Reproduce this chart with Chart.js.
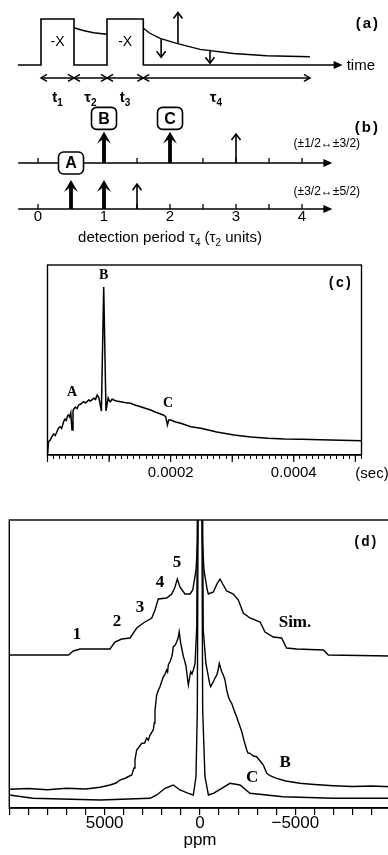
<!DOCTYPE html>
<html>
<head>
<meta charset="utf-8">
<script src="https://cdn.jsdelivr.net/npm/chart.js@4.4.1/dist/chart.umd.min.js"></script>
<style>
  html, body { margin: 0; padding: 0; background: #fff; overflow: hidden; }
  #wrap { position: relative; width: 388px; height: 855px; overflow: hidden; }
  canvas { position: absolute; left: 0; }
</style>
</head>
<body>
<div id="wrap">
  <canvas id="panelA" width="388" height="110" style="top:0"></canvas>
  <canvas id="panelB" width="388" height="145" style="top:105px"></canvas>
  <canvas id="panelC" width="388" height="235" style="top:255px"></canvas>
  <canvas id="panelD" width="392" height="345" style="top:510px"></canvas>
</div>
<script>
// (a) pulse sequence, time in tau2 units
const pulseEdges = [0, 1, 2, 3.1];
const pulseHeight = 1;
const decay1T = [1.00, 1.28, 1.59, 1.99];
const decay1S = [0.81, 0.75, 0.70, 0.67];
const decay2T = [3.10, 3.30, 3.61, 4.11, 4.82, 5.83, 6.84, 8.15];
const decay2S = [0.80, 0.69, 0.58, 0.47, 0.34, 0.25, 0.20, 0.18];
const sampleT = [3.64, 4.15, 5.12];
const sampleFrom = [0.56, 0.47, 0.33];
const sampleTo = [0.17, 1.14, 0.04];
const spanEdges = [0, 1, 2, 3.1, 8.15];
const spanNames = [['t', '1'], ['τ', '2'], ['t', '3'], ['τ', '4']];
const spanLabelT = [0.5, 1.5, 2.55, 5.3];

// (b) echo positions for the two satellite transitions
const periodTicks = [0, 1, 2, 3, 4];
const upperMainT = [1, 2], upperMainH = [0.68, 0.68];
const upperWeakT = [3], upperWeakH = [0.63];
const lowerMainT = [0.5, 1], lowerMainH = [0.63, 0.63];
const lowerWeakT = [1.5], lowerWeakH = [0.54];
const echoNames = ['A', 'B', 'C'];
const echoNameT = [0.5, 1, 2];
const echoNameRow = [1, 1.97, 1.97];
const transitions = ['(±1/2↔±3/2)', '(±3/2↔±5/2)'];

// (c) time-domain signal (microseconds, arb. units)
const fidTimeUs = [
  0, 1.6, 4.5, 7.2, 10, 12.5, 15.3, 18, 20.7, 23,
  26.1, 28.5, 30.5, 32.5, 34.3, 36, 37.8, 39.8, 41.4, 43,
  45.2, 48, 50.6, 54, 58.7, 62, 66.9, 70, 75, 78,
  80.6, 83, 84.8, 87.5, 91.3, 95, 98.5, 100.5, 102.3, 105,
  107.6, 112, 118.6, 125, 134.9, 142, 151.2, 160, 167.5, 175,
  183.8, 188, 192, 194.7, 196.9, 200.1, 208, 216.4, 232.7, 249,
  275, 302.9, 330, 358.3, 385, 412.1, 460, 512
];
const fidSignal = [
  0, 13.3, 15, 18.3, 21, 19.5, 23.3, 27, 28.3, 26.5,
  33.3, 36, 34.5, 39, 40, 38, 42, 25, 44, 46,
  48, 46.5, 50, 51, 53.3, 52, 55, 54, 56.7, 55.5,
  60, 58, 53.3, 44, 168, 44, 57, 54, 53.3, 56,
  55, 54, 53.3, 52.5, 51.7, 50, 48.3, 46.5, 45, 43,
  41, 40, 38.3, 30, 35, 35, 33, 31.7, 28.3, 26.7,
  23, 20, 18, 16.7, 16, 15.7, 15, 14.3
];
const timeTickLabels = [0.0002, 0.0004];
const fidMarkNames = ['A', 'B', 'C'];
const fidMarkT = [40, 91.3, 196];
const fidMarkS = [63, 180, 52];

// (d) spectra vs ppm
const simPpm = [10000, 6900, 6640, 6290, 4720, 4460, 4110, 3670, 3320, 2970,
  2530, 2360, 2190, 1750, 1480, 1310, 1190, 1050, 790, 520,
  380, 210, 120, 40, 0, -40, -120, -210, -380, -440,
  -700, -910, -1050, -1190, -1400, -1750, -2010, -2270, -2620, -3150,
  -3410, -3840, -4280, -4540, -5070, -6470, -6730, -10000];
const simInt = [153, 153, 157, 159, 159, 166, 169, 170, 180, 185,
  190, 198, 209, 210, 214, 221, 229, 221, 214, 214,
  218, 238, 268, 700, 800, 700, 268, 238, 218, 214,
  216, 225, 229, 224, 217, 214, 208, 195, 190, 186,
  176, 171, 170, 160, 159, 158, 153, 152];
const echoBPpm = [10000, 9000, 8000, 7000, 6000, 5240, 4720, 4400, 4200, 3900,
  3580, 3460, 3410, 3320, 3200, 3060, 2900, 2800, 2710, 2620,
  2450, 2400, 2360, 2270, 2180, 2100, 2000, 1920, 1850, 1750,
  1700, 1660, 1560, 1480, 1440, 1400, 1300, 1220, 1150, 1090,
  1010, 940, 870, 800, 730, 660, 610, 550, 490, 420,
  350, 260, 170, 60, -60, -170, -310, -440, -500, -560,
  -630, -700, -790, -880, -950, -1010, -1080, -1140, -1220, -1310,
  -1400, -1490, -1580, -1660, -1800, -1920, -2050, -2190, -2300, -2450,
  -2520, -2620, -2800, -2970, -3150, -3320, -3500, -3700, -4020, -4500,
  -5240, -6000, -6990, -8000, -9000, -10000];
const echoBInt = [18.7, 19.5, 18.3, 19.8, 19, 20.7, 23, 25, 28, 30,
  33, 40, 48, 58, 61, 64.7, 65, 70, 68, 73,
  78, 85, 98, 113, 118, 121.3, 127, 131.3, 133, 138,
  136, 143, 147, 151.3, 155, 161.3, 163, 166.3, 170, 176.3,
  164.7, 158, 151.3, 147, 141.3, 130, 123, 130, 136.3, 134,
  138, 144.7, 181.3, 600, 600, 178, 144.7, 131.3, 125, 121.3,
  124, 126.3, 130, 133, 138, 144.7, 140, 136.3, 133, 128,
  118, 111.3, 107, 104.7, 97, 91.3, 84, 76.3, 68, 58,
  55, 54.7, 52, 51.3, 47, 43, 34.7, 32, 29.7, 27,
  24.7, 23.5, 22.3, 21.5, 22, 21.3];
const echoCPpm = [10000, 8770, 5240, 2620, 2270, 1830, 1400, 1050, 610, 350,
  210, 140, 40, -40, -140, -260, -440, -700, -1140, -1570,
  -2100, -2620, -4360, -6990, -10000];
const echoCInt = [13, 9.7, 8, 9.7, 13, 19.7, 23, 18, 14.7, 13,
  31.3, 98, 600, 600, 98, 31.3, 13, 14.7, 19.7, 24.7,
  23, 14.7, 11.3, 9.7, 9.7];
const ppmTickLabels = [5000, 0, -5000];
const simStepNames = ['1', '2', '3', '4', '5'];
const simStepPpm = [6450, 4350, 3150, 2100, 1200];
const simStepInt = [173, 186, 200, 225, 245];
const traceNames = ['Sim.', 'B', 'C'];
const traceNamePpm = [-4980, -4460, -2730];
const traceNameInt = [185, 45, 30];

const SANS = "'Liberation Sans', Arial, Helvetica, sans-serif";
const SERIF = "'Liberation Serif', 'Times New Roman', serif";
const MONO = "'Liberation Mono', 'Courier New', monospace";

Chart.defaults.font.family = SANS;
Chart.defaults.color = '#000';
Chart.defaults.animation = false;
Chart.defaults.responsive = false;
Chart.defaults.events = [];
Chart.defaults.plugins.legend.display = false;
Chart.defaults.plugins.tooltip.enabled = false;

const toPts = (xs, ys, k = 1) => xs.map((x, i) => ({ x: x * k, y: ys[i] }));
const lineSet = (data, w) => ({ data, showLine: true, borderColor: '#000', borderWidth: w, pointRadius: 0, tension: 0 });

// drawing helpers
function seg(ctx, x1, y1, x2, y2, lw) {
  ctx.lineWidth = lw;
  ctx.beginPath(); ctx.moveTo(x1, y1); ctx.lineTo(x2, y2); ctx.stroke();
}
function head(ctx, x, y, ang, len, half, lw, kind) {
  const c = Math.cos(ang), s = Math.sin(ang);
  const bx = x - len * c, by = y - len * s;
  const nx = -s * half, ny = c * half;
  ctx.beginPath();
  if (kind === 'open') {
    ctx.lineWidth = lw;
    ctx.moveTo(bx + nx, by + ny); ctx.lineTo(x, y); ctx.lineTo(bx - nx, by - ny);
    ctx.stroke();
  } else if (kind === 'notch') {
    ctx.moveTo(x, y); ctx.lineTo(bx + nx, by + ny);
    ctx.lineTo(x - len * 0.55 * c, y - len * 0.55 * s);
    ctx.lineTo(bx - nx, by - ny); ctx.closePath(); ctx.fill();
  } else {
    ctx.moveTo(x, y); ctx.lineTo(bx + nx, by + ny); ctx.lineTo(bx - nx, by - ny);
    ctx.closePath(); ctx.fill();
  }
}
// text with subscripts: parts = [[text, isSub], ...]
function rich(ctx, parts, x, y, size, weight, align) {
  const big = `${weight} ${size}px ${SANS}`, small = `${weight} ${Math.round(size * 0.65)}px ${SANS}`;
  let w = 0;
  parts.forEach(([t, sub]) => { ctx.font = sub ? small : big; w += ctx.measureText(t).width; });
  let cx = align === 'center' ? x - w / 2 : x;
  ctx.textAlign = 'left'; ctx.textBaseline = 'middle';
  parts.forEach(([t, sub]) => {
    ctx.font = sub ? small : big;
    ctx.fillText(t, cx, sub ? y + size * 0.32 : y);
    cx += ctx.measureText(t).width;
  });
}

// ---- (a) ----
const trainPts = [{ x: -0.7, y: 0 }];
pulseEdges.forEach((e, i) => {
  const rising = i % 2 === 0;
  trainPts.push({ x: e, y: rising ? 0 : pulseHeight }, { x: e, y: rising ? pulseHeight : 0 });
});
trainPts.push({ x: 9.05, y: 0 });

new Chart(document.getElementById('panelA'), {
  type: 'scatter',
  data: { datasets: [
    lineSet(trainPts, 1.6),
    lineSet(toPts(decay1T, decay1S), 1.4),
    lineSet(toPts(decay2T, decay2S), 1.4)
  ] },
  options: {
    layout: { padding: 0 },
    scales: {
      x: { display: false, min: -1.2424, max: 10.515 },
      y: { display: false, min: -0.978, max: 1.413 }
    }
  },
  plugins: [{
    id: 'sequence',
    afterDatasetsDraw(chart) {
      const { ctx } = chart, X = v => chart.scales.x.getPixelForValue(v), Y = v => chart.scales.y.getPixelForValue(v);
      ctx.save();
      ctx.strokeStyle = ctx.fillStyle = '#000';
      head(ctx, X(9.05) + 3, Y(0), 0, 9, 4, 0, 'fill');
      sampleT.forEach((t, i) => {
        const up = sampleTo[i] > sampleFrom[i];
        seg(ctx, X(t), Y(sampleFrom[i]), X(t), Y(sampleTo[i]), 1.6);
        head(ctx, X(t), Y(sampleTo[i]), up ? -Math.PI / 2 : Math.PI / 2, 6, 4.5, 1.6, 'open');
      });
      const ys = Y(-0.28);
      for (let i = 0; i < spanEdges.length - 1; i++) {
        const a = X(spanEdges[i]), b = X(spanEdges[i + 1]);
        seg(ctx, a, ys, b, ys, 1.5);
        head(ctx, a, ys, Math.PI, 6, 3.5, 1.5, 'open');
        head(ctx, b, ys, 0, 6, 3.5, 1.5, 'open');
      }
      spanNames.forEach((n, i) => rich(ctx, [[n[0], 0], [n[1], 1]], X(spanLabelT[i]), Y(-0.72), 15, 'bold', 'center'));
      ctx.font = `14px ${SANS}`; ctx.textAlign = 'center'; ctx.textBaseline = 'middle';
      ctx.fillText('-X', X((pulseEdges[0] + pulseEdges[1]) / 2), Y(pulseHeight / 2));
      ctx.fillText('-X', X((pulseEdges[2] + pulseEdges[3]) / 2), Y(pulseHeight / 2));
      ctx.font = `15px ${SANS}`; ctx.textAlign = 'left';
      ctx.fillText('time', X(9.05) + 7, Y(0) + 1);
      ctx.font = `bold 15px ${SANS}`; ctx.textAlign = 'right'; ctx.letterSpacing = '2px';
      ctx.fillText('(a)', 380, 24);
      ctx.restore();
    }
  }]
});

// ---- (b) ----
new Chart(document.getElementById('panelB'), {
  type: 'scatter',
  data: { datasets: [
    lineSet([{ x: -0.3, y: 1 }, { x: 4.4, y: 1 }], 1.6),
    lineSet([{ x: -0.3, y: 0 }, { x: 4.4, y: 0 }], 1.6)
  ] },
  options: {
    layout: { padding: 0 },
    scales: {
      x: { display: false, min: -0.5758, max: 5.303 },
      y: { display: false, min: -0.891, max: 2.261 }
    }
  },
  plugins: [{
    id: 'echoes',
    afterDatasetsDraw(chart) {
      const { ctx } = chart, X = v => chart.scales.x.getPixelForValue(v), Y = v => chart.scales.y.getPixelForValue(v);
      ctx.save();
      ctx.strokeStyle = ctx.fillStyle = '#000';
      [0, 1].forEach(r => {
        head(ctx, X(4.4) + 4, Y(r), 0, 9, 4, 0, 'fill');
        for (let t = 0; t <= 4; t += 0.5) seg(ctx, X(t), Y(r), X(t), Y(r) - 5, 1.3);
      });
      const arrow = (t, base, h, strong) => {
        const x = X(t), y0 = Y(base), y1 = Y(base + h);
        if (strong) {
          seg(ctx, x, y0, x, y1 + 6, 3.8);
          head(ctx, x, y1, -Math.PI / 2, 12, 7, 0, 'notch');
        } else {
          seg(ctx, x, y0, x, y1, 1.6);
          head(ctx, x, y1, -Math.PI / 2, 6, 4.5, 1.6, 'open');
        }
      };
      upperMainT.forEach((t, i) => arrow(t, 1, upperMainH[i], true));
      upperWeakT.forEach((t, i) => arrow(t, 1, upperWeakH[i], false));
      lowerMainT.forEach((t, i) => arrow(t, 0, lowerMainH[i], true));
      lowerWeakT.forEach((t, i) => arrow(t, 0, lowerWeakH[i], false));
      echoNames.forEach((n, i) => {
        const cx = X(echoNameT[i]), cy = Y(echoNameRow[i]);
        ctx.beginPath(); ctx.roundRect(cx - 12.5, cy - 11, 25, 22, 5);
        ctx.fillStyle = '#fff'; ctx.fill();
        ctx.lineWidth = 1.6; ctx.stroke();
        ctx.fillStyle = '#000';
        ctx.font = `bold 16px ${SANS}`; ctx.textAlign = 'center'; ctx.textBaseline = 'middle';
        ctx.fillText(n, cx, cy + 1);
      });
      ctx.font = `12px ${SANS}`; ctx.textAlign = 'right'; ctx.textBaseline = 'middle';
      ctx.fillText(transitions[0], X(4.88), Y(1.43));
      ctx.fillText(transitions[1], X(4.88), Y(0.37));
      ctx.font = `15px ${SANS}`; ctx.textAlign = 'center';
      periodTicks.forEach(t => ctx.fillText(String(t), X(t), Y(-0.17)));
      rich(ctx, [['detection period τ', 0], ['4', 1], [' (τ', 0], ['2', 1], [' units)', 0]], X(2.0), Y(-0.63), 15, 'normal', 'center');
      ctx.font = `bold 15px ${SANS}`; ctx.textAlign = 'right'; ctx.letterSpacing = '2px';
      ctx.fillText('(b)', 380, 23);
      ctx.restore();
    }
  }]
});

// ---- (c) ----
new Chart(document.getElementById('panelC'), {
  type: 'scatter',
  data: { datasets: [lineSet(toPts(fidTimeUs, fidSignal, 1e-6), 1.5)] },
  options: {
    layout: { padding: { left: 47.5, right: 26.5, top: 10, bottom: 0 } },
    scales: {
      x: {
        min: 0, max: 0.00051,
        afterFit: s => { s.height = 35; },
        afterBuildTicks: s => {
          const t = [];
          for (let i = 0; i <= 51; i++) t.push({ value: i * 0.00001, major: i % 10 === 0 });
          s.ticks = t;
        },
        border: { color: '#000', width: 1.3 },
        grid: { drawOnChartArea: false, tickLength: 4, color: '#000', lineWidth: 1 },
        ticks: {
          autoSkip: false, maxRotation: 0, padding: 5, font: { size: 15 }, color: '#000',
          callback: v => {
            const hit = timeTickLabels.find(l => Math.abs(l - v) < 1e-9);
            return hit === undefined ? '' : hit.toFixed(4);
          }
        }
      },
      y: { display: false, min: 0, max: 190 }
    }
  },
  plugins: [{
    id: 'frameC',
    afterDraw(chart) {
      const { ctx, chartArea: a } = chart, X = v => chart.scales.x.getPixelForValue(v), Y = v => chart.scales.y.getPixelForValue(v);
      ctx.save();
      ctx.strokeStyle = ctx.fillStyle = '#000';
      ctx.lineWidth = 1.4;
      ctx.strokeRect(a.left, a.top, a.right - a.left, a.bottom - a.top);
      for (let i = 0; i <= 5; i++) seg(ctx, X(i * 0.0001), a.bottom, X(i * 0.0001), a.bottom + 7, 1.2);
      ctx.font = `bold 14px ${SERIF}`; ctx.textAlign = 'center'; ctx.textBaseline = 'middle';
      fidMarkNames.forEach((n, i) => ctx.fillText(n, X(fidMarkT[i] * 1e-6), Y(fidMarkS[i])));
      ctx.font = `bold 14px ${MONO}`; ctx.textAlign = 'right';
      ctx.fillText('(c)', a.right - 9, a.top + 18);
      ctx.font = `15px ${SANS}`; ctx.textAlign = 'center';
      ctx.fillText('(sec)', 372, a.bottom + 18.5);
      ctx.restore();
    }
  }]
});

// ---- (d) ----
new Chart(document.getElementById('panelD'), {
  type: 'scatter',
  data: { datasets: [
    lineSet(toPts(simPpm, simInt), 1.4),
    lineSet(toPts(echoBPpm, echoBInt), 1.4),
    lineSet(toPts(echoCPpm, echoCInt), 1.4)
  ] },
  options: {
    layout: { padding: { left: 9.3, right: 1.3, top: 10, bottom: 0 } },
    scales: {
      x: {
        min: -10000, max: 10000, reverse: true,
        afterFit: s => { s.height = 47; },
        border: { color: '#000', width: 1.4 },
        grid: { drawOnChartArea: false, tickLength: 7, color: '#000', lineWidth: 1.2 },
        ticks: {
          stepSize: 1000, maxTicksLimit: 100, autoSkip: false, maxRotation: 0, padding: -2,
          font: { size: 17 }, color: '#000',
          callback: v => ppmTickLabels.includes(v) ? (v < 0 ? '\u2212' + Math.abs(v) : String(v)) : ''
        },
        title: { display: true, text: 'ppm', font: { size: 17 }, color: '#000', padding: { top: 0, bottom: 4 } }
      },
      y: { display: false, min: 0, max: 288 }
    }
  },
  plugins: [{
    id: 'frameD',
    afterDraw(chart) {
      const { ctx, chartArea: a } = chart, X = v => chart.scales.x.getPixelForValue(v), Y = v => chart.scales.y.getPixelForValue(v);
      ctx.save();
      ctx.strokeStyle = ctx.fillStyle = '#000';
      ctx.lineWidth = 1.4;
      ctx.strokeRect(a.left, a.top, a.right - a.left, a.bottom - a.top);
      ctx.font = `bold 17px ${SERIF}`; ctx.textAlign = 'center'; ctx.textBaseline = 'middle';
      simStepNames.forEach((n, i) => ctx.fillText(n, X(simStepPpm[i]), Y(simStepInt[i])));
      traceNames.forEach((n, i) => ctx.fillText(n, X(traceNamePpm[i]), Y(traceNameInt[i])));
      ctx.font = `bold 14px ${MONO}`; ctx.textAlign = 'right';
      ctx.fillText('(d)', 378, a.top + 22);
      ctx.restore();
    }
  }]
});
</script>
</body>
</html>
